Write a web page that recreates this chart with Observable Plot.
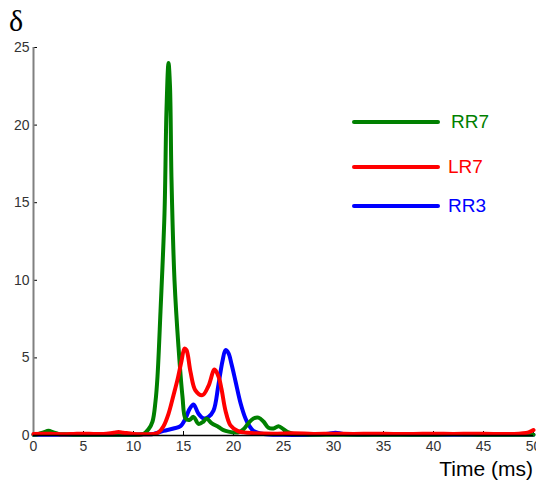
<!DOCTYPE html>
<html>
<head>
<meta charset="utf-8">
<script src="https://cdn.jsdelivr.net/npm/d3@7"></script>
<script src="https://cdn.jsdelivr.net/npm/@observablehq/plot@0.6"></script>
<style>
  body { margin: 0; background: #fff; }
  #wrap { position: relative; width: 536px; height: 481px; font-family: "Liberation Sans", Arial, sans-serif; }
  .ov { position: absolute; white-space: nowrap; line-height: 1; }
  .leg { position: absolute; height: 4px; border-radius: 2px; }
</style>
</head>
<body>
<div id="wrap"></div>
<script>
const seriesNames = ["RR7", "LR7", "RR3"];
const seriesColors = ["#008000", "#ff0000", "#0000ff"];

const rr7Time = [0,0.5,1,1.5,2,2.5,3,4,5,6,7,8,9,10,10.5,11,11.5,11.9,12.2,12.4,12.7,13.1,13.3,13.5,13.65,13.8,14.1,14.5,14.9,15.2,15.6,16,16.5,17,17.3,17.8,18.5,19,19.5,20,20.5,21,21.5,22,22.5,23,23.5,24,24.5,25,25.5,26,27,28,30,32,35,38,40,42,45,48,50];
const rr7Value = [0.05,0.1,0.2,0.3,0.2,0.1,0.08,0.05,0.05,0.05,0.05,0.05,0.05,0.05,0.05,0.1,0.4,0.9,2.2,3.8,8,14.3,21,24,22.5,16.5,10,5.7,2.5,1.1,1.0,1.2,0.75,0.9,1.1,0.8,0.55,0.35,0.25,0.2,0.2,0.4,0.8,1.1,1.15,0.9,0.5,0.45,0.6,0.4,0.2,0.1,0.08,0.05,0.05,0.05,0.05,0.05,0.05,0.08,0.05,0.05,0.05];

const lr7Time = [0,1,2,3,4,5,6,7,8,8.5,9,10,11,12,12.5,13,13.5,14,14.4,14.8,15.1,15.3,15.7,16.2,16.9,17.5,18.1,18.5,18.8,19.2,19.7,20.4,21,22,24,26,28,30,32,34,36,38,40,42,44,46,48,49.5,50];
const lr7Value = [0.1,0.12,0.1,0.08,0.1,0.12,0.1,0.1,0.18,0.22,0.18,0.1,0.08,0.1,0.2,0.6,1.4,2.6,3.6,4.8,5.6,5.5,4.1,2.9,2.6,3.2,4.25,3.8,3.0,1.6,0.65,0.3,0.2,0.15,0.12,0.15,0.1,0.12,0.1,0.12,0.1,0.1,0.12,0.1,0.12,0.1,0.1,0.2,0.35];

const rr3Time = [0,2,4,6,8,10,11,12,13,14,14.7,15.2,15.6,16,16.5,17,17.5,18,18.5,18.9,19.2,19.5,19.8,20.2,20.7,21.2,21.6,22,23,25,28,29.5,30.2,31,33,35,38,40,45,50];
const rr3Value = [0.05,0.05,0.05,0.05,0.05,0.05,0.08,0.1,0.3,0.45,0.6,1.1,1.7,2.0,1.4,1.1,1.2,1.6,3.3,4.8,5.5,5.3,4.6,3.5,2.1,1.1,0.6,0.3,0.1,0.05,0.05,0.12,0.18,0.1,0.05,0.07,0.05,0.05,0.05,0.05];

const xTicks = [0,5,10,15,20,25,30,35,40,45,50];
const yTicks = [0,5,10,15,20,25];
const xLabel = "Time (ms)";
const yLabel = "δ";

const toRows = (name, ts, vs) => ts.map((t, i) => ({series: name, t, v: vs[i]}));
const rr7 = toRows("RR7", rr7Time, rr7Value);
const lr7 = toRows("LR7", lr7Time, lr7Value);
const rr3 = toRows("RR3", rr3Time, rr3Value);

const lineOpts = (color) => ({x: "t", y: "v", stroke: color, strokeWidth: 4, curve: "catmull-rom", strokeLinejoin: "round", strokeLinecap: "round"});

const chart = Plot.plot({
  width: 536,
  height: 481,
  marginLeft: 33,
  marginRight: 3,
  marginTop: 47,
  marginBottom: 46,
  style: {fontFamily: "'Liberation Sans', Arial, sans-serif", fontSize: "14px", color: "#333", background: "transparent"},
  x: {domain: [0, 50]},
  y: {domain: [0, 25]},
  marks: [
    Plot.axisX(xTicks, {tickSize: 0, tickPadding: 6, fontSize: 14, fill: "#333", label: null}),
    Plot.axisX(xTicks, {tickSize: 4, dy: -4, text: null, stroke: "#000", label: null}),
    Plot.axisY(yTicks, {tickSize: 0, tickPadding: 4, fontSize: 14, fill: "#333", label: null}),
    Plot.axisY(yTicks, {tickSize: 4, dx: 4, text: null, stroke: "#000", label: null}),
    Plot.ruleX([0], {stroke: "#808080", strokeWidth: 2}),
    Plot.line(rr3, lineOpts(seriesColors[2])),
    Plot.line(rr7, lineOpts(seriesColors[0])),
    Plot.line(lr7, lineOpts(seriesColors[1])),
    Plot.ruleY([0], {stroke: "#000", strokeWidth: 1.5})
  ]
});

const wrap = document.getElementById("wrap");
chart.style.position = "absolute";
chart.style.left = "0";
chart.style.top = "0";
wrap.appendChild(chart);

function addText(txt, css) {
  const d = document.createElement("div");
  d.className = "ov";
  d.textContent = txt;
  Object.assign(d.style, css);
  wrap.appendChild(d);
}
addText(yLabel, {left: "9px", top: "6px", fontFamily: "'Liberation Serif', 'DejaVu Serif', serif", fontSize: "30px", color: "#000"});
addText(xLabel, {right: "3px", top: "458px", fontSize: "21px", color: "#000"});

const legendTops = [120, 165, 204];
seriesNames.forEach((name, i) => {
  const l = document.createElement("div");
  l.className = "leg";
  Object.assign(l.style, {left: "352px", width: "88px", top: legendTops[i] + "px", background: seriesColors[i]});
  wrap.appendChild(l);
  addText(name, {left: (i === 0 ? 451 : 448) + "px", top: (legendTops[i] - 8) + "px", fontSize: "19px", color: seriesColors[i]});
});
</script>
</body>
</html>
